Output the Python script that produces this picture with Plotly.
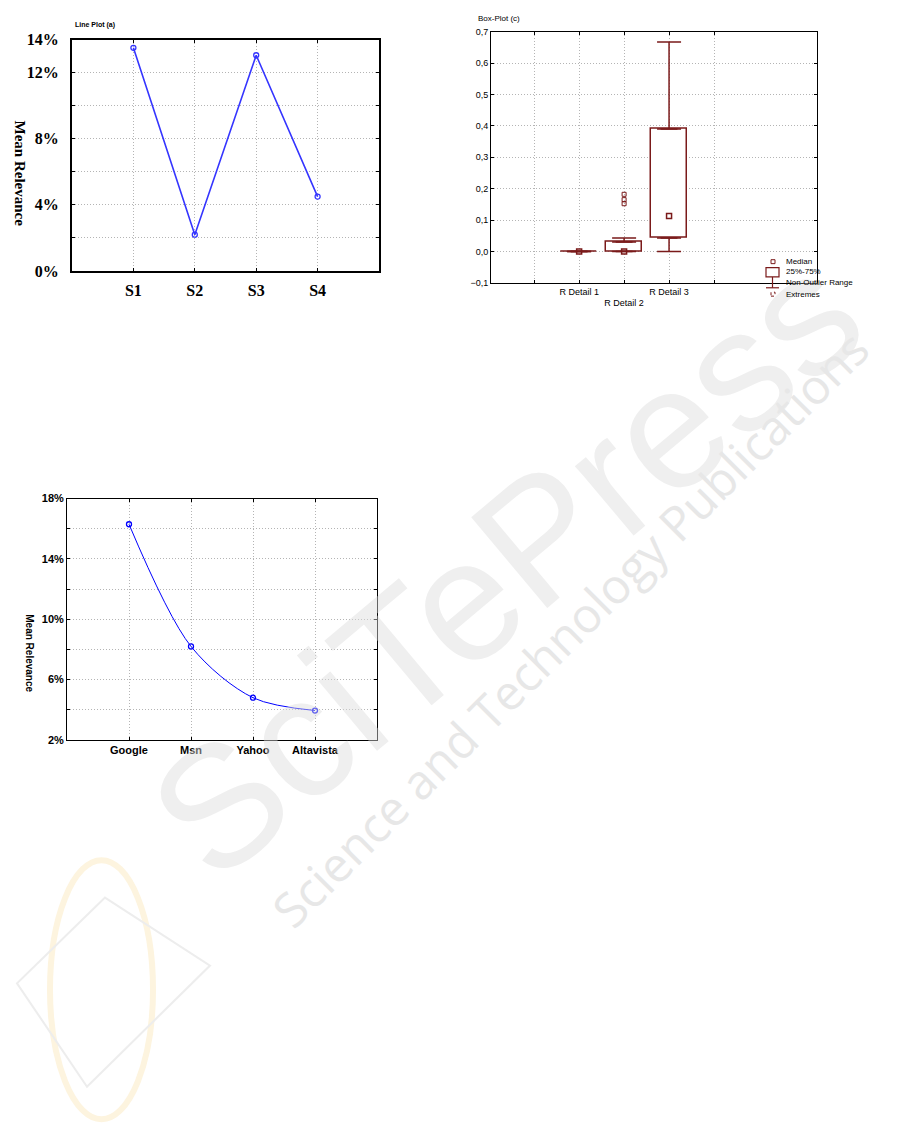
import plotly.graph_objects as go

# ---------------- data ----------------
# Line Plot (a)
s_cats = ["S1", "S2", "S3", "S4"]
s_vals = [13.5, 2.2, 13.05, 4.5]
a_ytickvals = [0, 2, 4, 6, 8, 10, 12, 14]
a_yticktext = ["0%", "", "4%", "", "8%", "", "12%", "14%"]

# Box-Plot (c)
box_cats = ["R Detail 1", "R Detail 2", "R Detail 3"]
box_q1 = [0.0, 0.0, 0.043]
box_q3 = [0.0, 0.03, 0.39]
box_med = [0.0, 0.0, 0.113]
box_lo = [0.0, 0.0, 0.0]
box_hi = [0.0, 0.043, 0.667]
ext_cats = ["R Detail 2", "R Detail 2", "R Detail 2"]
ext_vals = [0.182, 0.165, 0.152]
box_xtickvals = [-1, 0, 1, 2, 3]
box_xticktext = ["", "R Detail 1", "\u00a0<br>R Detail 2", "R Detail 3", ""]
box_legend = ["Median", "25%-75%", "Non-Outlier Range", "Extremes"]

# Search engines
eng_cats = ["Google", "Msn", "Yahoo", "Altavista"]
eng_vals = [16.3, 8.2, 4.8, 3.95]
c_ytickvals = [2, 4, 6, 8, 10, 12, 14, 16, 18]
c_yticktext = ["2%", "", "6%", "", "10%", "", "14%", "", "18%"]

# ---------------- figure ----------------
W, H = 901, 1144
MAROON = "#7a1a1a"
GRID = "#b4b4b4"


def px_x(a, b):
    return [a / W, b / W]


def px_y(top, bottom):
    return [1 - bottom / H, 1 - top / H]


def fx(v):
    return v / W


def fy(v):
    return 1 - v / H


fig = go.Figure()

# Chart (a)
fig.add_trace(go.Scatter(
    x=s_cats, y=s_vals, mode="lines+markers", xaxis="x", yaxis="y",
    line=dict(color="#3535ff", width=1.6),
    marker=dict(symbol="circle-open", size=5, color="#3535ff", line=dict(width=1.3)),
    showlegend=False))

# Chart (c) box plot
pos = list(range(len(box_cats)))
fig.add_trace(go.Bar(
    x=pos, base=box_q1, y=[q3 - q1 for q1, q3 in zip(box_q1, box_q3)],
    width=0.8, xaxis="x2", yaxis="y2", name=box_legend[1], showlegend=False,
    marker=dict(color="white", line=dict(color=MAROON, width=1.5))))
fig.add_trace(go.Scatter(
    x=pos, y=box_q3, mode="markers", xaxis="x2", yaxis="y2", name=box_legend[2],
    showlegend=False,
    marker=dict(symbol="line-ew-open", size=12, color=MAROON, line=dict(width=1.5, color=MAROON)),
    error_y=dict(type="data", symmetric=False,
                 array=[h - q for h, q in zip(box_hi, box_q3)],
                 arrayminus=[0] * len(pos), color=MAROON, thickness=1.5, width=12)))
fig.add_trace(go.Scatter(
    x=pos, y=box_q1, mode="markers", xaxis="x2", yaxis="y2", showlegend=False,
    marker=dict(symbol="line-ew-open", size=12, color=MAROON, line=dict(width=1.5, color=MAROON)),
    error_y=dict(type="data", symmetric=False, array=[0] * len(pos),
                 arrayminus=[q - l for q, l in zip(box_q1, box_lo)],
                 color=MAROON, thickness=1.5, width=12)))
fig.add_trace(go.Scatter(
    x=pos, y=box_med, mode="markers", xaxis="x2", yaxis="y2", name=box_legend[0],
    showlegend=False,
    marker=dict(symbol="square-open", size=5, color=MAROON, line=dict(width=1.5, color=MAROON))))
fig.add_trace(go.Scatter(
    x=[box_cats.index(c) for c in ext_cats], y=ext_vals, mode="markers",
    xaxis="x2", yaxis="y2", name=box_legend[3], showlegend=False,
    marker=dict(symbol="square-open", size=4, color=MAROON, line=dict(width=1, color=MAROON))))

# Chart (b) search engines
fig.add_trace(go.Scatter(
    x=eng_cats, y=eng_vals, mode="lines+markers", xaxis="x3", yaxis="y3",
    line=dict(color="#0000ff", width=1, shape="spline", smoothing=0.9),
    marker=dict(symbol="circle-open", size=5, color="#0000ff", line=dict(width=1.3)),
    showlegend=False))

serif_b = dict(family="Liberation Serif", size=16, color="black", weight="bold")
sans_small = dict(family="Liberation Sans", size=9, color="black")
sans_b = dict(family="Liberation Sans", size=11, color="black", weight="bold")

common_axis = dict(showline=True, linecolor="black", mirror="allticks", ticks="inside",
                   tickcolor="black", ticklen=3, showgrid=True, gridcolor=GRID,
                   griddash="1px,2px", gridwidth=1, zeroline=False, fixedrange=True)

fig.update_layout(
    width=W, height=H, autosize=False,
    margin=dict(l=0, r=0, t=0, b=0),
    paper_bgcolor="white", plot_bgcolor="white",
    separators=",.",
    showlegend=False,
    xaxis=dict(common_axis, domain=px_x(72, 379), anchor="y", type="category",
               range=[-1, 4], tickfont=serif_b, linewidth=2, ticklabelstandoff=4),
    yaxis=dict(common_axis, domain=px_y(32, 267), anchor="x", range=[0, 14],
               tickvals=a_ytickvals, ticktext=a_yticktext, tickfont=serif_b,
               linewidth=2, ticklabelstandoff=8),
    xaxis2=dict(common_axis, domain=px_x(491, 817), anchor="y2", range=[-1.96, 5.29],
                tickvals=box_xtickvals, ticktext=box_xticktext, tickfont=sans_small),
    yaxis2=dict(common_axis, domain=px_y(24, 279), anchor="x2", range=[-0.1, 0.7],
                dtick=0.1, tick0=0, tickformat=".1f", tickfont=sans_small),
    xaxis3=dict(common_axis, domain=px_x(67, 377), anchor="y3", type="category",
                range=[-1, 4], tickfont=sans_b),
    yaxis3=dict(common_axis, domain=px_y(498, 743), anchor="x3", range=[2, 18],
                tickvals=c_ytickvals, ticktext=c_yticktext, tickfont=sans_b),
    bargap=0,
)

legend_font = dict(family="Liberation Sans", size=8, color="black")
legend_y = [257.5, 267, 279, 290.5]

annotations = [
    # watermark (faint)
    dict(text="SciTePress", x=fx(505), y=fy(565), textangle=-40,
         xanchor="center", yanchor="middle", opacity=0.45,
         font=dict(family="Liberation Sans", size=172, color="#dcdcdc")),
    dict(text="Science and Technology Publications", x=fx(570), y=fy(630),
         textangle=-45, xanchor="center", yanchor="middle",
         font=dict(family="Open Sans", size=48, color="#e7e7e7")),
    # titles
    dict(text="Line Plot (a)", x=fx(73), y=fy(17), xanchor="left", yanchor="middle",
         font=dict(family="Liberation Sans", size=7, color="black", weight="bold")),
    dict(text="Box-Plot (c)", x=fx(476), y=fy(11), xanchor="left", yanchor="middle",
         font=dict(family="Liberation Sans", size=8, color="black")),
    dict(text="Mean Relevance", x=fx(20), y=fy(168), textangle=90,
         xanchor="center", yanchor="middle",
         font=dict(family="Liberation Serif", size=15, color="black", weight="bold")),
    dict(text="Mean Relevance", x=fx(30), y=fy(655), textangle=90,
         xanchor="center", yanchor="middle",
         font=dict(family="Liberation Sans", size=10, color="black", weight="bold")),
]
for name, ly in zip(box_legend, legend_y):
    annotations.append(dict(text=name, x=fx(784), y=fy(ly), xanchor="left",
                            yanchor="middle", font=legend_font))
for a in annotations:
    a.update(xref="paper", yref="paper", showarrow=False)
fig.update_layout(annotations=annotations)

# legend symbols for the box plot
pl = dict(xref="paper", yref="paper")
fig.add_shape(type="rect", x0=fx(771), x1=fx(775), y0=fy(259.5), y1=fy(255.5),
              line=dict(color=MAROON, width=1), **pl)
fig.add_shape(type="rect", x0=fx(766), x1=fx(779), y0=fy(273), y1=fy(263.5),
              line=dict(color=MAROON, width=1.2), **pl)
fig.add_shape(type="line", x0=fx(772.5), x1=fx(772.5), y0=fy(273), y1=fy(284),
              line=dict(color=MAROON, width=1.2), **pl)
fig.add_shape(type="line", x0=fx(766), x1=fx(779), y0=fy(284), y1=fy(284),
              line=dict(color=MAROON, width=1.2), **pl)
fig.add_shape(type="rect", x0=fx(771), x1=fx(775), y0=fy(292.5), y1=fy(288.5),
              line=dict(color=MAROON, width=1, dash="dot"), **pl)

# faint logo decoration (bottom left)
fig.add_shape(type="circle", layer="below", x0=fx(50), x1=fx(153), y0=fy(1128), y1=fy(865),
              line=dict(color="#fdf4df", width=6), **pl)
fig.add_shape(type="path", layer="below",
              path=f"M {fx(105)} {fy(903)} L {fx(210)} {fy(972)} L {fx(87)} {fy(1095)} "
                   f"L {fx(17)} {fy(990)} Z",
              line=dict(color="#ededed", width=2), **pl)

fig.write_html("out.html", config={"displayModeBar": False},
               post_script="document.body.style.margin='0px';document.body.style.padding='0px';")
